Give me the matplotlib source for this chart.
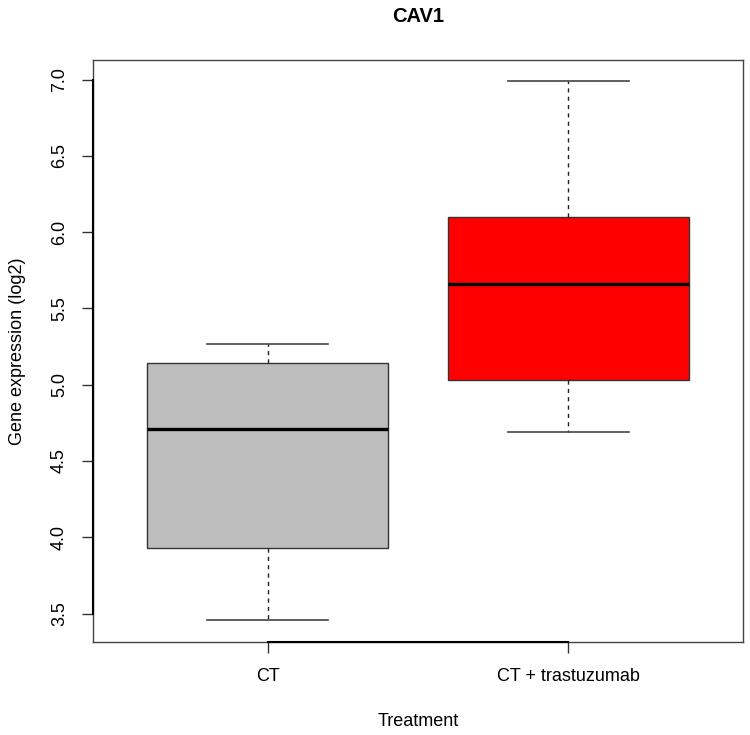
import matplotlib
matplotlib.use("Agg")
from matplotlib import pyplot as plt

plt.rcParams['font.family'] = ['Liberation Sans', 'DejaVu Sans']

# box summary values
groups = ["CT", "CT + trastuzumab"]
whisker_low = [3.455, 4.687]
q1 = [3.93, 5.034]
medians = [4.71, 5.66]
q3 = [5.14, 6.10]
whisker_high = [5.27, 6.99]
box_colors = ["#BEBEBE", "#FF0000"]

stats = []
for i in range(len(groups)):
    stats.append({"label": groups[i], "whislo": whisker_low[i], "q1": q1[i],
                  "med": medians[i], "q3": q3[i], "whishi": whisker_high[i]})

fig = plt.figure(figsize=(7.5, 7.35), dpi=100)
ax = fig.add_axes([0.124, 0.1265, 0.8667, 0.7925])

bp = ax.bxp(stats, positions=[1, 2], widths=0.8, patch_artist=True,
            showfliers=False, capwidths=0.4,
            boxprops=dict(linewidth=1.0, edgecolor="#333333"),
            medianprops=dict(color="black", linewidth=2.4, solid_capstyle="butt"),
            whiskerprops=dict(color="#222222", linewidth=1.0, linestyle=(0, (3, 3))),
            capprops=dict(color="#444444", linewidth=1.2))
for patch, c in zip(bp["boxes"], box_colors):
    patch.set_facecolor(c)

# R style axis extents (4% padding)
lo = min(whisker_low)
hi = max(whisker_high)
pad = (hi - lo) * 0.04
ax.set_xlim(0.42, 2.58)
ax.set_ylim(lo - pad, hi + pad)

ax.set_yticks([3.5, 4.0, 4.5, 5.0, 5.5, 6.0, 6.5, 7.0])
ax.set_yticklabels(["3.5", "4.0", "4.5", "5.0", "5.5", "6.0", "6.5", "7.0"],
                   rotation=90, va="center")
ax.set_xticks([1, 2])
ax.set_xticklabels(groups)
ax.tick_params(axis="both", direction="out", length=8, width=1.0,
               labelsize=13, color="#333333")
ax.tick_params(axis="y", pad=10)
ax.tick_params(axis="x", pad=11)

for sp in ax.spines.values():
    sp.set_linewidth(1.0)
    sp.set_color("#444444")

# heavier axis segments between the outer ticks, as R draws them
ax.plot([1, 2], [lo - pad, lo - pad], color="black", lw=1.5, clip_on=False, zorder=5)
ax.plot([0.42, 0.42], [3.5, 7.0], color="black", lw=1.5, clip_on=False, zorder=5)

ax.set_title("CAV1", fontsize=14.5, fontweight="bold", pad=27)
ax.set_xlabel("Treatment", fontsize=13, labelpad=20)
ax.set_ylabel("Gene expression (log2)", fontsize=13, labelpad=18)

fig.savefig("out.png", dpi=100)
